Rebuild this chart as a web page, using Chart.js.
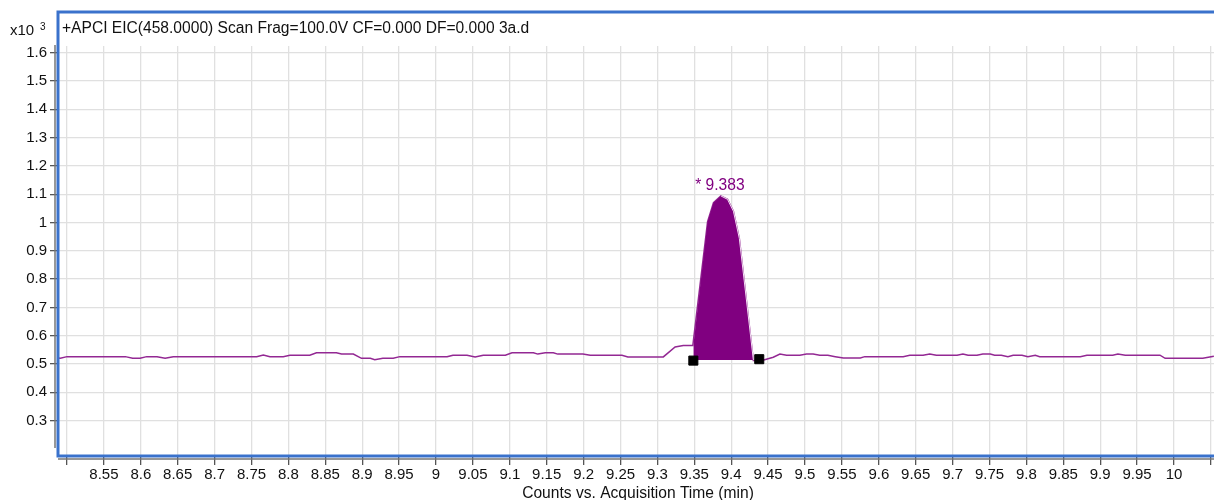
<!DOCTYPE html>
<html>
<head>
<meta charset="utf-8">
<script src="https://cdn.jsdelivr.net/npm/chart.js@4/dist/chart.umd.min.js"></script>
<style>
  html, body { margin: 0; padding: 0; background: #fff; }
  #wrap { width: 1214px; height: 500px; }
</style>
</head>
<body>
<div id="wrap"><canvas id="eic" width="1214" height="500"></canvas></div>
<script>
// retention time (min) and counts (x10^3) of the EIC trace
const rt = [8.488, 8.491, 8.500, 8.579, 8.589, 8.599, 8.608, 8.622, 8.633, 8.644,
  8.757, 8.766, 8.775, 8.793, 8.802, 8.829, 8.838, 8.865, 8.872, 8.888,
  8.899, 8.911, 8.917, 8.928, 8.942, 8.951, 9.015, 9.023, 9.042, 9.053,
  9.064, 9.094, 9.103, 9.132, 9.138, 9.148, 9.159, 9.165, 9.199, 9.209,
  9.252, 9.260, 9.308, 9.324, 9.335, 9.348, 9.368, 9.376, 9.386, 9.395,
  9.403, 9.411, 9.430, 9.443, 9.457, 9.466, 9.475, 9.493, 9.502, 9.511,
  9.520, 9.531, 9.541, 9.552, 9.575, 9.581, 9.633, 9.642, 9.660, 9.669,
  9.678, 9.706, 9.714, 9.721, 9.733, 9.741, 9.751, 9.757, 9.766, 9.775,
  9.782, 9.794, 9.802, 9.812, 9.818, 9.873, 9.882, 9.917, 9.924, 9.934,
  9.981, 9.988, 10.039, 10.054];
const counts = [0.521, 0.520, 0.526, 0.526, 0.520, 0.520, 0.526, 0.526, 0.520, 0.526,
  0.526, 0.532, 0.526, 0.526, 0.531, 0.531, 0.540, 0.540, 0.535, 0.535,
  0.520, 0.520, 0.515, 0.520, 0.520, 0.526, 0.526, 0.531, 0.531, 0.525,
  0.531, 0.531, 0.540, 0.540, 0.535, 0.540, 0.540, 0.535, 0.535, 0.531,
  0.531, 0.525, 0.525, 0.560, 0.565, 0.565, 1.003, 1.070, 1.094, 1.082,
  1.040, 0.944, 0.512, 0.513, 0.524, 0.535, 0.531, 0.531, 0.535, 0.535,
  0.531, 0.531, 0.526, 0.521, 0.521, 0.526, 0.526, 0.531, 0.531, 0.535,
  0.531, 0.531, 0.535, 0.531, 0.531, 0.535, 0.535, 0.531, 0.531, 0.526,
  0.531, 0.531, 0.526, 0.531, 0.526, 0.526, 0.531, 0.531, 0.535, 0.531,
  0.531, 0.520, 0.520, 0.527];

// integrated peak area
const peakRt = [9.3487, 9.3487, 9.368, 9.376, 9.386, 9.395, 9.403, 9.411, 9.430, 9.438];
const peakCounts = [0.514, 0.565, 1.003, 1.070, 1.094, 1.082, 1.040, 0.944, 0.515, 0.517];
const peakBase = 0.514;
const apexRt = 9.383;

// integration start / end markers
const markerRt = [9.3487, 9.438];
const markerCounts = [0.512, 0.517];

const xTicks = [8.5, 8.55, 8.6, 8.65, 8.7, 8.75, 8.8, 8.85, 8.9, 8.95, 9, 9.05, 9.1, 9.15,
  9.2, 9.25, 9.3, 9.35, 9.4, 9.45, 9.5, 9.55, 9.6, 9.65, 9.7, 9.75, 9.8, 9.85, 9.9, 9.95, 10, 10.05];
const xHidden = [8.5, 10.05];
const yTicks = [0.3, 0.4, 0.5, 0.6, 0.7, 0.8, 0.9, 1, 1.1, 1.2, 1.3, 1.4, 1.5, 1.6];

const titleText = "+APCI EIC(458.0000) Scan Frag=100.0V CF=0.000 DF=0.000 3a.d";
const xTitle = "Counts vs. Acquisition Time (min)";

const FONT = "'Liberation Sans', Arial, sans-serif";
const purple = "#800080";
const apexIdx = peakCounts.indexOf(Math.max(...peakCounts));

const decor = {
  id: "decor",
  afterDraw(chart) {
    const ctx = chart.ctx, a = chart.chartArea;
    ctx.save();
    // grey axis lines
    ctx.strokeStyle = "#777";
    ctx.lineWidth = 1.5;
    ctx.beginPath();
    ctx.moveTo(55, 45); ctx.lineTo(55, 448);
    ctx.moveTo(a.left, a.bottom + 3); ctx.lineTo(a.right, a.bottom + 3);
    ctx.stroke();
    // blue frame
    ctx.strokeStyle = "#3a72cc";
    ctx.lineWidth = 3;
    ctx.strokeRect(58, 12, 1250, a.bottom - 12);
    // texts
    ctx.fillStyle = "#111";
    ctx.textBaseline = "alphabetic";
    ctx.textAlign = "left";
    ctx.font = "15.6px " + FONT;
    ctx.fillText(titleText, 62, 33);
    ctx.font = "15px " + FONT;
    ctx.fillText("x10", 10, 35);
    ctx.font = "10px " + FONT;
    ctx.fillText("3", 40, 30);
    ctx.font = "15.6px " + FONT;
    ctx.textAlign = "center";
    ctx.fillText(xTitle, (a.left + a.right) / 2 + 2, 498);
    // apex label
    const xs = chart.scales.x, ys = chart.scales.y;
    ctx.fillStyle = purple;
    ctx.fillText("* " + apexRt.toFixed(3), xs.getPixelForValue(peakRt[apexIdx]) - 1, ys.getPixelForValue(peakCounts[apexIdx]) - 6);
    ctx.restore();
  }
};

new Chart(document.getElementById("eic"), {
  type: "line",
  data: {
    datasets: [
      {
        label: "peak edge",
        data: peakRt.slice(apexIdx).map((x, i) => ({ x, y: peakCounts[apexIdx + i] })),
        borderColor: "#f2e0f2",
        borderWidth: 1,
        pointRadius: 0,
        fill: false,
        tension: 0,
        order: 0
      },
      {
        label: "peak",
        data: peakRt.map((x, i) => ({ x, y: peakCounts[i] })),
        borderWidth: 0,
        borderColor: purple,
        backgroundColor: purple,
        fill: { value: peakBase },
        pointRadius: 0,
        tension: 0,
        order: 1
      },
      {
        label: "EIC",
        data: rt.map((x, i) => ({ x, y: counts[i] })),
        borderColor: "#932893",
        borderWidth: 1.5,
        pointRadius: 0,
        fill: false,
        tension: 0,
        order: 2
      },
      {
        label: "markers",
        data: markerRt.map((x, i) => ({ x, y: markerCounts[i] })),
        showLine: false,
        pointStyle: "rect",
        pointRadius: 6.4,
        pointBackgroundColor: "#000",
        pointBorderColor: "#000",
        order: -1
      }
    ]
  },
  options: {
    responsive: false,
    animation: false,
    devicePixelRatio: 1,
    layout: { autoPadding: false, padding: { top: 46, left: 0, right: 0, bottom: 0 } },
    plugins: { legend: { display: false }, tooltip: { enabled: false } },
    scales: {
      x: {
        type: "linear",
        min: 8.4878,
        max: 10.0542,
        afterBuildTicks: s => { s.ticks = xTicks.map(v => ({ value: v })); },
        afterFit: s => { s.height = 44; },
        grid: { color: "#e0e0e0", lineWidth: 1.3, tickLength: 9, tickColor: "#555", tickWidth: 1.3 },
        border: { display: false },
        ticks: {
          autoSkip: false,
          maxRotation: 0,
          padding: 1,
          color: "#111",
          font: { family: FONT, size: 15 },
          callback: v => xHidden.includes(v) ? "" : String(parseFloat(v.toFixed(2)))
        }
      },
      y: {
        type: "linear",
        min: 0.1749,
        max: 1.6237,
        afterBuildTicks: s => { s.ticks = yTicks.map(v => ({ value: v })); },
        afterFit: s => { s.width = 58; },
        grid: { color: "#e0e0e0", lineWidth: 1.3, tickLength: 8, tickColor: "#555", tickWidth: 1.3 },
        border: { display: false },
        ticks: {
          padding: 3,
          color: "#111",
          font: { family: FONT, size: 15 },
          callback: v => String(parseFloat(v.toFixed(1)))
        }
      }
    }
  },
  plugins: [decor]
});
</script>
</body>
</html>
